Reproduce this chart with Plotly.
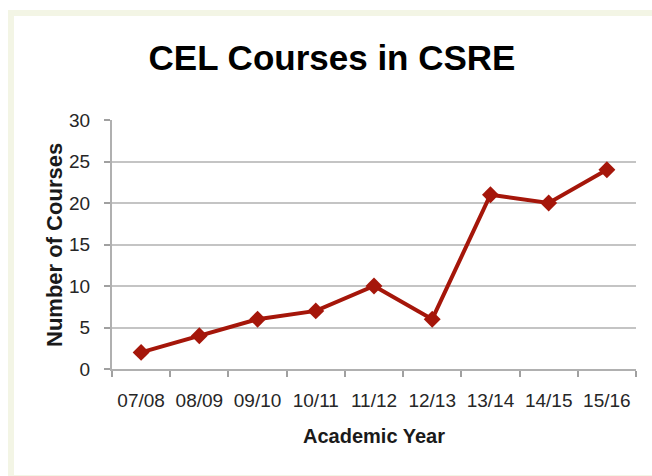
import plotly.graph_objects as go

years = ["07/08", "08/09", "09/10", "10/11", "11/12", "12/13", "13/14", "14/15", "15/16"]
courses = [2, 4, 6, 7, 10, 6, 21, 20, 24]
y_ticks = [0, 5, 10, 15, 20, 25, 30]

W, H = 652, 476
L, R, T, B = 112, 16, 120, 107
pw, ph = W - L - R, H - T - B

def px(x):
    return (x - L) / pw

def py(y):
    return (H - B - y) / ph

fig = go.Figure()
fig.add_trace(go.Scatter(
    x=years, y=courses, mode="lines+markers",
    line=dict(color="#a5160a", width=4),
    marker=dict(symbol="diamond", size=13, color="#a5160a"),
    showlegend=False, cliponaxis=False,
))

cream = "#f3f5e5"
fig.add_shape(type="rect", xref="paper", yref="paper", layer="below",
              x0=px(8), x1=px(652), y0=py(476), y1=py(10),
              fillcolor=cream, line=dict(width=0))
fig.add_shape(type="rect", xref="paper", yref="paper", layer="below",
              x0=px(14), x1=px(652), y0=py(475), y1=py(16),
              fillcolor="white", line=dict(width=0))

font = "Liberation Sans, Arial, sans-serif"
fig.update_layout(
    width=W, height=H,
    margin=dict(l=L, r=R, t=T, b=B, pad=0),
    paper_bgcolor="white", plot_bgcolor="white",
    title=dict(text="<b>CEL Courses in CSRE</b>", x=332 / W, xanchor="center",
               y=1 - 58 / H, yanchor="middle", yref="container",
               font=dict(family=font, size=35, color="black")),
    font=dict(family=font),
    xaxis=dict(
        type="category", range=[-0.5, 8.5], tickson="boundaries",
        ticks="outside", ticklen=6, tickwidth=1.5, tickcolor="#a0a0a0",
        showline=True, linecolor="#b0b0b0", linewidth=2,
        showgrid=False, zeroline=False,
        tickfont=dict(family=font, size=19, color="#262626"),
        ticklabelstandoff=13,
        title=dict(text="<b>Academic Year</b>", standoff=19,
                   font=dict(family=font, size=20, color="#1a1a1a")),
    ),
    yaxis=dict(
        range=[0, 30], tickvals=y_ticks,
        ticks="outside", ticklen=6, tickwidth=1.5, tickcolor="#a0a0a0",
        showline=True, linecolor="#b0b0b0", linewidth=2,
        showgrid=True, gridcolor="#c4c4c4", gridwidth=2, zeroline=False,
        tickfont=dict(family=font, size=19, color="#262626"),
        ticklabelstandoff=10,
    ),
    annotations=[dict(
        text="<b>Number of Courses</b>", textangle=-90,
        xref="paper", yref="paper", x=px(54), y=py(245),
        xanchor="center", yanchor="middle", showarrow=False,
        font=dict(family=font, size=22, color="#1a1a1a"),
    )],
)

fig.write_html(
    "out.html",
    config={"displayModeBar": False},
    post_script="document.body.style.margin='0';document.body.style.overflow='hidden';",
)
